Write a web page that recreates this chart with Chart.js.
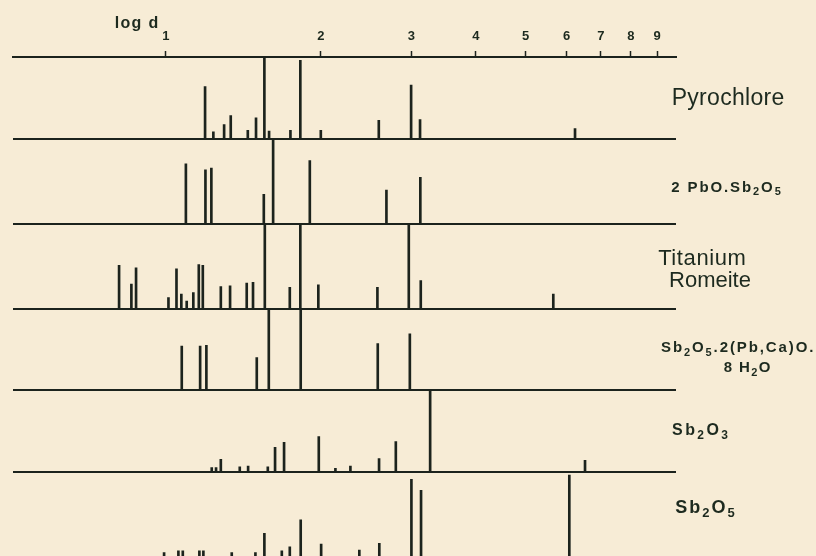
<!DOCTYPE html>
<html>
<head>
<meta charset="utf-8">
<script src="https://cdn.jsdelivr.net/npm/chart.js@4/dist/chart.umd.min.js"></script>
<style>
html, body { margin: 0; padding: 0; background: #f7ecd6; overflow: hidden; }
#wrap { width: 816px; height: 556px; position: relative; }
canvas { display: block; }
</style>
</head>
<body>
<div id="wrap"><canvas id="c" width="816" height="556"></canvas></div>
<script>
// ---- data (d-spacing in Å, relative line intensity in % of panel height) ----
const tickLabels = [1, 2, 3, 4, 5, 6, 7, 8, 9];
const phaseNames = ['Pyrochlore', '2 PbO.Sb₂O₅', ['Titanium', 'Romeite'],
                    ['Sb₂O₅.2(Pb,Ca)O.', '8 H₂O'], 'Sb₂O₃', 'Sb₂O₅'];

const pyrochloreD = [1.192, 1.237, 1.298, 1.337, 1.443, 1.497, 1.554, 1.587, 1.746, 1.825, 2.000, 2.592, 2.995, 3.117, 6.233];
const pyrochloreI = [64, 9, 18, 29, 11, 26, 100, 10, 11, 96, 11, 23, 66, 24, 13];

const pbSbD = [1.094, 1.194, 1.226, 1.550, 1.616, 1.904, 2.682, 3.121];
const pbSbI = [71, 64, 66, 35, 100, 75, 40, 55];

const romeiteD = [0.8115, 0.8574, 0.8755, 1.012, 1.049, 1.072, 1.098, 1.131, 1.159, 1.180, 1.279, 1.333, 1.436, 1.477, 1.557, 1.741, 1.825, 1.978, 2.576, 2.964, 3.127, 5.656];
const romeiteI = [51, 29, 48, 13, 47, 17, 9, 19, 52, 51, 26, 27, 30, 31, 100, 25, 100, 28, 25, 100, 33, 17];

const hydrateD = [1.074, 1.166, 1.199, 1.502, 1.585, 1.828, 2.580, 2.978];
const hydrateI = [54, 54, 55, 40, 100, 100, 57, 69];

const sb2o3D = [1.228, 1.252, 1.279, 1.392, 1.445, 1.578, 1.630, 1.697, 1.982, 2.135, 2.283, 2.595, 2.797, 3.261, 6.518];
const sb2o3I = [5, 5, 15, 6, 7, 6, 30, 36, 43, 4, 7, 16, 37, 100, 14];

const sb2o5D = [0.9924, 1.058, 1.079, 1.162, 1.183, 1.343, 1.493, 1.554, 1.680, 1.741, 1.828, 2.003, 2.376, 2.598, 2.999, 3.131, 6.076];
const sb2o5I = [4, 6, 6, 6, 6, 4, 4, 27, 6, 11, 43, 14, 7, 15, 91, 78, 96];

const panelD = [pyrochloreD, pbSbD, romeiteD, hydrateD, sb2o3D, sb2o5D];
const panelI = [pyrochloreI, pbSbI, romeiteI, hydrateI, sb2o3I, sb2o5I];

// ---- styling / layout ----
const INK = '#1c231d';
const TXT = '#1d2a1f';
const FAM = '"Liberation Sans", Arial, sans-serif';
const panelWeights = [82.3, 84.5, 84.7, 81.5, 81.5, 84.3];

// label placement: panel, value on panel's axis, dx from chart right edge, align, weight, size, letterSpacing
const labelLayout = [
  [{ p: 0, v: 41.7, dx: 52, a: 'center', w: 'normal', s: 23, ls: 0.3 }],
  [{ p: 1, v: 38.2, dx: 50, a: 'center', w: 'bold', s: 15, ls: 1.9 }],
  [{ p: 2, v: 51.6, dx: 26, a: 'center', w: 'normal', s: 22, ls: 0.6 },
   { p: 2, v: 25.9, dx: 34, a: 'center', w: 'normal', s: 22, ls: 0 }],
  [{ p: 3, v: 46.3, dx: -15, a: 'left', w: 'bold', s: 15, ls: 1.9 },
   { p: 3, v: 21.8, dx: 71, a: 'center', w: 'bold', s: 15, ls: 1.4 }],
  [{ p: 4, v: 44.9, dx: 24, a: 'center', w: 'bold', s: 16, ls: 2.4 }],
  [{ p: 5, v: 50.9, dx: 29, a: 'center', w: 'bold', s: 18, ls: 2 }]
];

const SUBS = '₀₁₂₃₄₅₆₇₈₉';
function segments(text) {
  const out = [];
  for (const ch of text) {
    const si = SUBS.indexOf(ch);
    const sub = si >= 0;
    const c = sub ? String(si) : ch;
    if (out.length && out[out.length - 1].sub === sub) out[out.length - 1].t += c;
    else out.push({ t: c, sub });
  }
  return out;
}
function drawRich(ctx, text, x, y, L) {
  const segs = segments(text);
  const mainF = L.w + ' ' + L.s + 'px ' + FAM;
  const subF = L.w + ' ' + Math.round(L.s * 0.74) + 'px ' + FAM;
  ctx.letterSpacing = L.ls + 'px';
  let total = 0;
  segs.forEach(sg => { ctx.font = sg.sub ? subF : mainF; sg.w = ctx.measureText(sg.t).width; total += sg.w; });
  total -= L.ls;
  let cx = L.a === 'center' ? x - total / 2 : x;
  ctx.textAlign = 'left';
  segs.forEach(sg => {
    ctx.font = sg.sub ? subF : mainF;
    ctx.fillText(sg.t, cx, sg.sub ? y + L.s * 0.22 : y);
    cx += sg.w;
  });
}

const datasets = panelD.map((ds, k) => ({
  type: 'bar',
  label: Array.isArray(phaseNames[k]) ? phaseNames[k].join(' ') : phaseNames[k],
  data: ds.map((d, i) => ({ x: d, y: panelI[k][i] })),
  xAxisID: 'x',
  yAxisID: 'y' + k,
  backgroundColor: INK,
  borderWidth: 0,
  barThickness: 2,
  grouped: false
}));

const scales = {
  x: {
    type: 'logarithmic',
    position: 'top',
    min: 0.505,
    max: 9.79,
    offset: false,
    afterBuildTicks: s => { s.ticks = tickLabels.map(v => ({ value: v })); },
    afterFit: s => { s.height = 44; },
    grid: { display: true, drawOnChartArea: false, drawTicks: true, tickLength: 6,
            tickColor: INK, tickWidth: 1.5, offset: false },
    border: { display: true, color: INK, width: 2 },
    ticks: { autoSkip: false, maxRotation: 0, minRotation: 0, padding: 7, color: TXT,
             font: { family: FAM, size: 13, weight: 'bold' },
             callback: v => String(v) }
  }
};
panelWeights.forEach((w, k) => {
  scales['y' + k] = {
    type: 'linear',
    position: 'right',
    stack: 'panels',
    stackWeight: w,
    min: 0,
    max: 100,
    offset: false,
    afterBuildTicks: s => { s.ticks = [{ value: 0 }]; },
    ticks: { display: false },
    grid: { display: k < panelWeights.length - 1, drawTicks: false, color: INK, lineWidth: 2 },
    border: { display: false }
  };
});

const labelPlugin = {
  id: 'panelLabels',
  afterDraw(chart) {
    const ctx = chart.ctx;
    const ca = chart.chartArea;
    ctx.save();
    ctx.fillStyle = TXT;
    ctx.textBaseline = 'alphabetic';
    phaseNames.forEach((name, k) => {
      const lines = Array.isArray(name) ? name : [name];
      lines.forEach((t, j) => {
        const L = labelLayout[k][j];
        const ys = chart.scales['y' + L.p];
        drawRich(ctx, t, ca.right + L.dx, ys.getPixelForValue(L.v), L);
      });
    });
    const xs = chart.scales.x;
    drawRich(ctx, 'log d', xs.getPixelForValue(1) - 51, 28,
             { a: 'left', w: 'bold', s: 16, ls: 1.3 });
    ctx.restore();
  }
};

new Chart(document.getElementById('c'), {
  type: 'bar',
  data: { datasets },
  options: {
    responsive: false,
    animation: false,
    devicePixelRatio: 1,
    layout: { padding: { left: 13, right: 140, top: 13, bottom: 0 } },
    plugins: { legend: { display: false }, tooltip: { enabled: false }, title: { display: false } },
    scales
  },
  plugins: [labelPlugin]
});
</script>
</body>
</html>
